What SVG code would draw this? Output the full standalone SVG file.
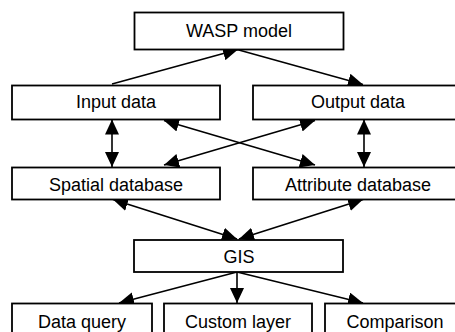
<svg xmlns="http://www.w3.org/2000/svg" width="455" height="332" viewBox="0 0 455 332">
<style>
.box{fill:#fff;stroke:#000;stroke-width:1.8}
.lbl{font-family:"Liberation Sans",Arial,sans-serif;font-size:18px;fill:#000;text-anchor:middle}
.c{stroke:#000;stroke-width:1.6;fill:none}
</style>
<defs>
<marker id="ah" markerUnits="userSpaceOnUse" markerWidth="15" markerHeight="14" refX="15" refY="7" orient="auto-start-reverse">
<path d="M0,0 L15,7 L0,14 z" fill="#000"/>
</marker>
</defs>
<rect width="455" height="332" fill="#fff"/>
<g id="connectors">
<line class="c" x1="112" y1="84" x2="238" y2="49.5" marker-end="url(#ah)"/>
<line class="c" x1="237" y1="49.5" x2="363" y2="84.5" marker-end="url(#ah)"/>
<line class="c" x1="112" y1="119.5" x2="112" y2="167" marker-start="url(#ah)" marker-end="url(#ah)"/>
<line class="c" x1="364" y1="119.5" x2="364" y2="167" marker-start="url(#ah)" marker-end="url(#ah)"/>
<line class="c" x1="164" y1="120.5" x2="315" y2="165" marker-start="url(#ah)" marker-end="url(#ah)"/>
<line class="c" x1="315" y1="120.5" x2="164" y2="165" marker-start="url(#ah)" marker-end="url(#ah)"/>
<line class="c" x1="113" y1="199.5" x2="237" y2="239" marker-start="url(#ah)" marker-end="url(#ah)"/>
<line class="c" x1="363" y1="199.5" x2="239" y2="239" marker-start="url(#ah)" marker-end="url(#ah)"/>
<line class="c" x1="237" y1="272" x2="119" y2="303" marker-end="url(#ah)"/>
<line class="c" x1="237" y1="272" x2="237" y2="303" marker-end="url(#ah)"/>
<line class="c" x1="237" y1="272" x2="363" y2="303" marker-end="url(#ah)"/>
</g>
<g id="wasp"><rect class="box" x="134.5" y="12.5" width="209" height="37"/><text class="lbl" x="239" y="36.5">WASP model</text></g>
<g id="input"><rect class="box" x="12" y="85.5" width="208" height="34"/><text class="lbl" x="116" y="108">Input data</text></g>
<g id="output"><rect class="box" x="253" y="85.5" width="210" height="34"/><text class="lbl" x="358" y="108">Output data</text></g>
<g id="spatial"><rect class="box" x="12" y="167.5" width="208" height="32"/><text class="lbl" x="116" y="191">Spatial database</text></g>
<g id="attribute"><rect class="box" x="253" y="167.5" width="210" height="32"/><text class="lbl" x="358" y="191">Attribute database</text></g>
<g id="gis"><rect class="box" x="134" y="240" width="209" height="32"/><text class="lbl" x="239" y="263">GIS</text></g>
<g id="query"><rect class="box" x="12" y="303.5" width="140" height="34"/><text class="lbl" x="82" y="328">Data query</text></g>
<g id="custom"><rect class="box" x="164" y="303.5" width="148" height="34"/><text class="lbl" x="238" y="328">Custom layer</text></g>
<g id="comparison"><rect class="box" x="325" y="303.5" width="140" height="34"/><text class="lbl" x="395" y="328">Comparison</text></g>
</svg>
